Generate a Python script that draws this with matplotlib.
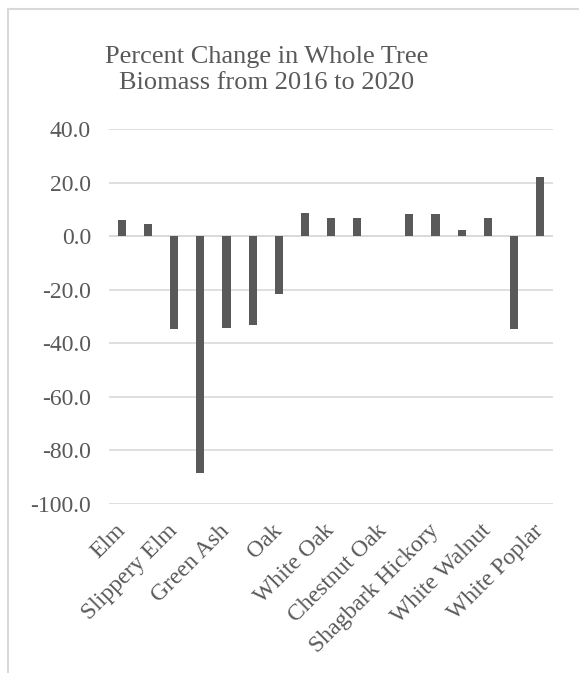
import matplotlib
matplotlib.use("Agg")
import matplotlib.pyplot as plt
from matplotlib.lines import Line2D
import numpy as np

# species (only every other name shows on the axis, like the original)
species = ["Elm", "American Elm", "Slippery Elm", "Ash", "Green Ash",
           "White Ash", "Oak", "Red Oak", "White Oak", "Pin Oak",
           "Chestnut Oak", "Hickory", "Shagbark Hickory", "Black Walnut",
           "White Walnut", "Poplar", "White Poplar"]
pct_change = [6.2, 4.7, -34.7, -88.5, -34.2, -33.3, -21.6, 8.9, 6.8, 6.9,
              0.0, 8.3, 8.3, 2.3, 6.7, -34.7, 22.1]
yticks = [40, 20, 0, -20, -40, -60, -80, -100]

W, H = 579, 673
fig = plt.figure(figsize=(W / 100, H / 100), dpi=100)
plt.rcParams['font.family'] = ['Liberation Serif', 'DejaVu Serif']

ax = fig.add_axes([109 / W, 1 - 504 / H, (553 - 109) / W, (504 - 129.3) / H])
x = np.arange(len(species))
ax.bar(x, pct_change, width=0.31, color='#595959', zorder=3)

ax.set_xlim(-0.5, len(species) - 0.5)
ax.set_ylim(-100, 40)
ax.set_yticks(yticks)
ax.set_yticklabels(["%.1f" % v for v in yticks], color='#595959', fontsize=17)
ax.yaxis.grid(True, color='#d9d9d9', linewidth=1.2, zorder=0)
ax.axhline(0, color='#d9d9d9', linewidth=1.2, zorder=1)

ax.set_xticks(x[::2])
ax.set_xticklabels(species[::2], rotation=45, ha='right', va='center',
                   rotation_mode='anchor', color='#595959', fontsize=17)
ax.tick_params(axis='both', length=0)
ax.tick_params(axis='y', pad=13)
ax.tick_params(axis='x', pad=17)
for s in ax.spines.values():
    s.set_visible(False)

fig.text(267 / W, 1 - 70 / H, "Percent Change in Whole Tree\nBiomass from 2016 to 2020",
         ha='center', va='center', fontsize=19, color='#595959', linespacing=1.28)

# chart area border (only left and top visible)
fig.add_artist(Line2D([8 / W, 8 / W], [0, 1 - 9 / H], color='#d9d9d9', linewidth=1.5,
                      transform=fig.transFigure))
fig.add_artist(Line2D([8 / W, 1], [1 - 9 / H, 1 - 9 / H], color='#d9d9d9', linewidth=1.5,
                      transform=fig.transFigure))

fig.savefig("out.png", dpi=100)
